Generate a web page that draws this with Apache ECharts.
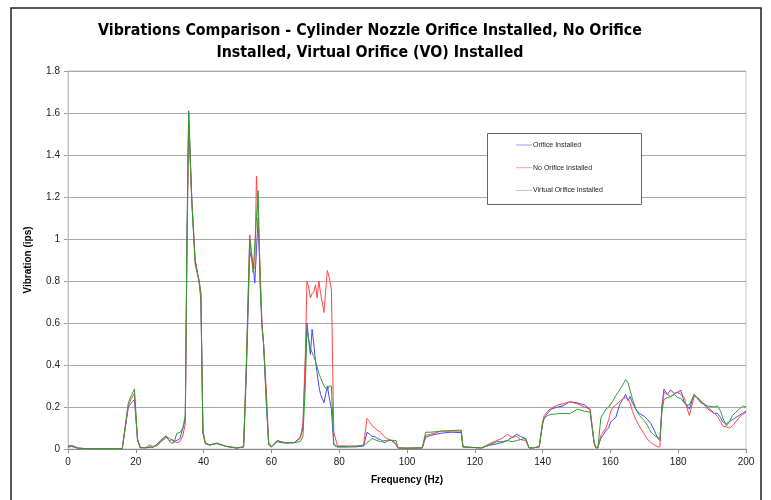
<!DOCTYPE html>
<html>
<head>
<meta charset="utf-8">
<title>Vibrations Comparison</title>
<script src="https://cdn.jsdelivr.net/npm/echarts@6/dist/echarts.min.js"></script>
<style>
  html, body { margin: 0; padding: 0; background: #fff; }
  #chart { width: 771px; height: 500px; }
</style>
</head>
<body>
<div id="chart"></div>
<script>
// frequency (Hz) sample points, shared by the three series
const freq = [
  0, 1, 2, 3, 5, 10, 16, 16.5, 17.8, 18.7,
  19.6, 20.5, 21.3, 23, 24.2, 25, 26.2, 27.2, 28.2, 29,
  30, 30.6, 31.3, 32.1, 33, 33.9, 34.6, 35.1, 35.6, 36.5,
  37.5, 38.7, 39.2, 39.8, 40.5, 41.8, 43.9, 45.3, 46.8, 49.8,
  51.8, 52.6, 53.6, 54.6, 55.1, 55.6, 56.1, 56.7, 57.2, 57.7,
  58.5, 59.2, 60, 61.7, 63, 64.2, 66.7, 68.5, 69.3, 70,
  70.5, 71, 71.5, 72, 72.5, 73, 73.5, 74, 74.5, 75,
  75.5, 76, 76.5, 77, 77.7, 78.4, 79.5, 82, 85, 87.2,
  88.2, 89, 89.7, 90.5, 91.2, 92.2, 93.2, 94, 94.7, 95.5,
  96.2, 96.8, 97.3, 100, 104.5, 105.5, 107, 110, 113, 116,
  116.5, 117, 122, 123.7, 125, 126.5, 128, 129.6, 131, 132.3,
  133.5, 135, 136, 137, 139, 140, 140.5, 141.5, 142.5, 144.5,
  146, 148, 150.3, 152.3, 154, 155.2, 155.7, 156.3, 157.2, 158,
  158.7, 159.5, 160.1, 160.8, 161.6, 162.3, 163, 163.8, 164.5, 165.2,
  165.8, 166.5, 167.5, 168.5, 170, 171, 172, 172.9, 174, 174.6,
  175.2, 175.8, 176.8, 177.8, 178.8, 179.8, 180.8, 181.8, 182.5, 183.3,
  184.7, 185.7, 186.7, 187.7, 188.7, 190.6, 191.6, 192.5, 193.1, 194.2,
  195.1, 196, 197, 198, 199, 200
];

// Orifice Installed (blue)
const orifice = [
  .01, .012, .008, .004, .002, .002, .002, .003, .2, .22,
  .235, .05, .008, .005, .01, .008, .02, .035, .045, .055,
  .04, .045, .035, .04, .05, .1, .14, 1.0, 1.61, 1.2,
  .9, .79, .71, .075, .027, .018, .028, .02, .012, .004,
  .01, .35, .94, .88, .79, .95, 1.1, .8, .6, .5,
  .22, .02, .01, .035, .03, .028, .03, .055, .1, .4,
  .6, .52, .45, .57, .5, .42, .36, .3, .26, .24,
  .22, .26, .3, .25, .19, .02, .01, .01, .01, .015,
  .08, .07, .06, .06, .05, .045, .03, .035, .045, .04,
  .03, .02, .005, .004, .005, .055, .065, .075, .08, .078,
  .01, .005, .005, .015, .02, .025, .03, .04, .055, .07,
  .06, .05, .005, .005, .01, .12, .15, .17, .19, .2,
  .205, .225, .22, .21, .19, .03, .005, .01, .05, .07,
  .09, .1, .13, .14, .15, .19, .22, .24, .26, .23,
  .25, .22, .19, .17, .155, .14, .12, .09, .05, .04,
  .2, .285, .26, .28, .265, .27, .28, .22, .21, .19,
  .26, .24, .22, .215, .2, .17, .17, .15, .13, .12,
  .13, .14, .15, .16, .17, .18
];

// No Orifice Installed (red)
const noOrifice = [
  .015, .018, .012, .005, .002, .002, .002, .003, .21, .24,
  .265, .04, .006, .008, .02, .012, .015, .03, .05, .06,
  .05, .045, .04, .03, .035, .065, .12, .95, 1.55, 1.19,
  .9, .8, .74, .09, .03, .02, .025, .018, .012, .005,
  .01, .4, 1.02, .87, .86, 1.3, 1.3, .85, .6, .5,
  .28, .03, .012, .04, .035, .03, .03, .05, .12, .45,
  .8, .77, .72, .74, .75, .78, .72, .8, .74, .7,
  .65, .75, .85, .82, .76, .08, .015, .015, .012, .02,
  .146, .13, .11, .1, .09, .08, .06, .05, .045, .04,
  .035, .02, .005, .004, .005, .065, .07, .085, .085, .085,
  .01, .005, .005, .02, .03, .04, .05, .07, .055, .06,
  .045, .04, .005, .005, .01, .13, .16, .18, .194, .21,
  .215, .225, .215, .2, .19, .025, .005, .003, .065, .085,
  .1, .14, .18, .2, .21, .22, .23, .24, .245, .235,
  .22, .18, .14, .11, .07, .045, .03, .02, .01, .01,
  .2, .27, .26, .25, .26, .27, .26, .245, .2, .16,
  .25, .245, .23, .21, .19, .17, .155, .13, .11, .105,
  .1, .11, .13, .15, .165, .175
];

// Virtual Orifice Installed (green)
const virtualOrifice = [
  .008, .014, .01, .003, .002, .002, .002, .003, .22, .255,
  .286, .045, .005, .006, .008, .008, .022, .04, .055, .062,
  .035, .027, .03, .075, .078, .1, .16, 1.03, 1.6, 1.18,
  .88, .8, .74, .08, .025, .02, .027, .02, .012, .006,
  .01, .39, 1.0, .84, .84, 1.1, 1.23, .77, .58, .5,
  .23, .02, .01, .04, .033, .03, .03, .035, .06, .3,
  .57, .52, .48, .46, .44, .42, .39, .36, .34, .32,
  .3, .29, .28, .3, .3, .02, .01, .01, .015, .015,
  .03, .04, .05, .045, .04, .035, .04, .04, .04, .042,
  .04, .04, .005, .004, .005, .08, .08, .085, .088, .09,
  .01, .005, .005, .015, .025, .035, .035, .04, .035, .04,
  .045, .05, .005, .005, .01, .12, .146, .16, .165, .168,
  .17, .168, .19, .18, .175, .03, .008, .006, .15, .17,
  .19, .2, .215, .23, .255, .27, .29, .31, .33, .315,
  .28, .24, .19, .16, .135, .11, .08, .065, .055, .05,
  .18, .235, .245, .25, .26, .245, .24, .22, .21, .21,
  .26, .24, .225, .21, .205, .2, .205, .18, .15, .11,
  .13, .16, .175, .19, .205, .2
];

const seriesNames = ['Orifice Installed', 'No Orifice Installed', 'Virtual Orifice Installed'];
const lineColors = ['#4646ff', '#ff4646', '#2f9f2f'];
const legendColors = ['#9a9aff', '#ffa0a0', '#a6d9a6'];

const FONT = "'Liberation Sans', Arial, sans-serif";

const pairs = arr => freq.map((f, i) => [f, arr[i]]);

const chart = echarts.init(document.getElementById('chart'), null, { renderer: 'canvas' });

const option = {
  animation: false,
  backgroundColor: '#fff',
  title: {
    text: 'Vibrations Comparison - Cylinder Nozzle Orifice Installed, No Orifice\nInstalled, Virtual Orifice (VO) Installed',
    left: 370,
    top: 20,
    padding: 0,
    textAlign: 'center',
    textStyle: {
      fontFamily: "'Liberation Sans Narrow', 'Arial Narrow', 'DejaVu Sans Condensed', sans-serif",
      fontWeight: 'bold',
      fontSize: 15.8,
      lineHeight: 22,
      color: '#000'
    }
  },
  legend: {
    orient: 'vertical',
    left: 516,
    top: 140,
    padding: 0,
    z: 10,
    itemGap: 12.7,
    itemWidth: 16,
    itemHeight: 1,
    icon: 'rect',
    data: seriesNames.map((n, i) => ({ name: n, itemStyle: { color: legendColors[i] } })),
    textStyle: { fontFamily: FONT, fontSize: 7, lineHeight: 10, color: '#222', padding: [0, 0, 0, -4] }
  },
  graphic: [
    {
      // outer chart frame
      type: 'rect',
      shape: { x: 11, y: 8, width: 750, height: 520 },
      style: { fill: null, stroke: '#222', lineWidth: 1.5 },
      silent: true,
      z: 0
    },
    {
      // legend box
      type: 'rect',
      shape: { x: 487.5, y: 133.5, width: 154, height: 71 },
      style: { fill: '#fff', stroke: '#666', lineWidth: 1 },
      silent: true,
      z: 5
    }
  ],
  grid: {
    left: 68,
    right: 25,
    top: 71,
    bottom: 51,
    show: true,
    borderColor: '#c8c8c8',
    borderWidth: 1,
    containLabel: false
  },
  xAxis: {
    type: 'value',
    min: 0,
    max: 200,
    interval: 20,
    name: 'Frequency (Hz)',
    nameLocation: 'middle',
    nameGap: 26,
    nameTextStyle: { fontFamily: FONT, fontWeight: 'bold', fontSize: 10, color: '#000' },
    axisLine: { lineStyle: { color: '#8c8c8c', width: 1 } },
    axisTick: { show: true, length: 4, lineStyle: { color: '#8c8c8c' } },
    axisLabel: { fontFamily: FONT, fontSize: 10, color: '#222', margin: 8 },
    splitLine: { show: false }
  },
  yAxis: {
    type: 'value',
    min: 0,
    max: 1.8,
    interval: 0.2,
    name: 'Vibration (ips)',
    nameLocation: 'middle',
    nameGap: 35,
    nameRotate: 90,
    nameTextStyle: { fontFamily: FONT, fontWeight: 'bold', fontSize: 10, color: '#000' },
    axisLine: { show: true, lineStyle: { color: '#c0c0c0', width: 1 } },
    axisTick: { show: true, length: 4, lineStyle: { color: '#a0a0a0' } },
    axisLabel: { fontFamily: FONT, fontSize: 10, color: '#222', margin: 8 },
    splitLine: { show: true, lineStyle: { color: '#a8a8a8', width: 1 } }
  },
  series: [orifice, noOrifice, virtualOrifice].map((arr, i) => ({
    name: seriesNames[i],
    type: 'line',
    data: pairs(arr),
    showSymbol: false,
    symbol: 'none',
    color: lineColors[i],
    lineStyle: { width: 1, color: lineColors[i] },
    z: 2 + i
  }))
};

chart.setOption(option);
</script>
</body>
</html>
